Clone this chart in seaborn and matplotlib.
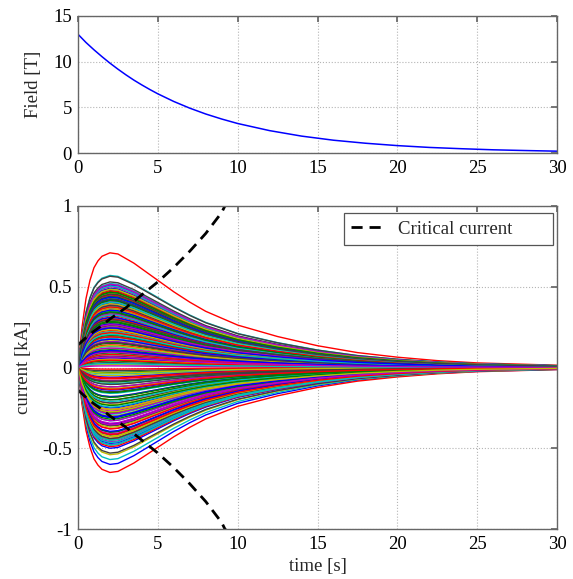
import numpy as np
import pandas as pd
import matplotlib
matplotlib.use("Agg")
import matplotlib.pyplot as plt
import seaborn as sns

# ---- data ----
field_t = [0, 0.5, 1, 1.5, 2, 2.5, 3, 3.5, 4, 4.5, 5, 6, 7, 8, 9, 10, 12, 14, 16, 18,
           20, 22, 24, 26, 28, 30]
field_B = [13.0, 12.1, 11.3, 10.55, 9.84, 9.18, 8.56, 7.98, 7.45, 6.95, 6.48, 5.64,
           4.91, 4.27, 3.72, 3.23, 2.45, 1.85, 1.4, 1.07, 0.81, 0.61, 0.47, 0.35,
           0.27, 0.2]

crit_t = [0, 0.5, 1, 1.5, 2, 3, 4, 5, 6, 7, 8, 9, 9.2, 9.6]
crit_I = [0.14, 0.185, 0.225, 0.26, 0.30, 0.37, 0.45, 0.53, 0.62, 0.72, 0.83, 0.96,
          1.0, 1.04]

# normalised current waveform (peak = 1)
shape_t = [0, 0.25, 0.5, 0.75, 1, 1.25, 1.5, 2, 2.5, 3, 3.5, 4, 5, 6, 7, 8, 9, 10,
           12.5, 15, 17.5, 20, 22.5, 25, 27.5, 30]
shape_v = [0, 0.35, 0.6, 0.76, 0.87, 0.93, 0.97, 1.0, 0.99, 0.95, 0.91, 0.86, 0.76,
           0.66, 0.57, 0.49, 0.43, 0.37, 0.27, 0.19, 0.13, 0.09, 0.06, 0.04, 0.03,
           0.02]

# peak current of each strand [kA], in plotting order (colour cycle b g r c m y k)
peaks = [
    0.48, 0.31, 0.71, 0.57, -0.22, 0.12, 0.565,
    -0.60, -0.45, -0.65, -0.57, 0.44, -0.54, -0.53,
    -0.50, 0.38, 0.05, 0.52, 0.50, -0.30, 0.36,
    0.45, -0.12, 0.27, -0.40, 0.47, 0.21, -0.48,
    0.33, 0.42, -0.35, 0.18, -0.08, 0.40, 0.53,
    -0.42, 0.15, 0.46, 0.29, 0.35, -0.18, 0.24,
    0.51, -0.28, -0.44, 0.08, -0.38, 0.33, -0.15,
    0.02, 0.25, 0.39, -0.33, 0.20, 0.43, 0.30,
    -0.25, 0.47, -0.20, 0.41, -0.46, -0.05, 0.10,
    0.37, -0.36, 0.14, -0.10, 0.28, 0.49, -0.40,
    -0.47, 0.22, 0.32, 0.46, -0.27, -0.43, 0.44,
    0.16, -0.03, -0.49, 0.35, 0.06, 0.26, -0.31,
    0.42, 0.34, 0.23, -0.45, 0.39, 0.17, 0.03,
    -0.14, -0.40, 0.45, 0.13, -0.33, 0.37, 0.48,
    0.27, 0.09, -0.26, 0.48, 0.44, -0.37, 0.19,
    -0.35, 0.44, 0.36, -0.16, 0.12, 0.02, -0.44,
    0.06, -0.20, 0.19, 0.38, -0.41, 0.46, 0.34,
    0.40, 0.28, -0.07, -0.29, 0.25, -0.13, 0.41,
    -0.31, 0.04, 0.43, 0.22, 0.01, 0.29, -0.22,
    0.31, -0.32, -0.38, -0.04, 0.33, -0.23, 0.07,
    -0.18, 0.11, 0.08, -0.21, -0.12, 0.36, -0.02,
    0.49, -0.09, 0.30, 0.43, 0.41, 0.05, -0.36,
    -0.06, 0.20, -0.01, -0.48, 0.16, -0.26, 0.26,
    0.355, -0.155, 0.215, 0.505, -0.345, 0.135, 0.455,
    -0.395, 0.285, 0.475, -0.245, 0.095, -0.425, 0.385,
    0.175, 0.415, -0.065, 0.325, -0.285, 0.235, -0.105,
    0.435, -0.185, 0.045, -0.465, 0.265, 0.395, 0.155,
    -0.305, 0.345, -0.415, 0.205, 0.515, -0.035, 0.295,
    0.105, -0.235, 0.375, 0.025, -0.355, 0.485, -0.085,
    0.245, 0.465, -0.135, 0.405, 0.065, -0.275, 0.425,
]

matlab_colors = [(0, 0, 1), (0, 0.5, 0), (1, 0, 0), (0, 0.75, 0.75),
                 (0.75, 0, 0.75), (0.75, 0.75, 0), (0.25, 0.25, 0.25)]

# ---- build tables ----
field_df = pd.DataFrame({"t": field_t, "B": field_B})
crit_df = pd.concat([
    pd.DataFrame({"t": crit_t, "I": crit_I, "side": "pos"}),
    pd.DataFrame({"t": crit_t, "I": [-v for v in crit_I], "side": "neg"}),
])
rows = []
for k, p in enumerate(peaks):
    for tt, sv in zip(shape_t, shape_v):
        rows.append((k, tt, p * sv))
cur_df = pd.DataFrame(rows, columns=["strand", "t", "I"])
palette = [matlab_colors[k % 7] for k in range(len(peaks))]

# ---- style ----
sns.set_theme(style="white")
plt.rcParams["font.family"] = ["Liberation Serif", "DejaVu Serif"]
plt.rcParams.update({
    "axes.edgecolor": "#666666",
    "axes.linewidth": 1.0,
    "xtick.direction": "in",
    "ytick.direction": "in",
    "xtick.top": True,
    "ytick.right": True,
    "xtick.major.size": 4,
    "ytick.major.size": 4,
    "xtick.major.pad": 5,
    "ytick.major.pad": 4.5,
    "xtick.color": "#666666",
    "ytick.color": "#666666",
    "xtick.labelcolor": "black",
    "ytick.labelcolor": "black",
    "font.size": 13,
})

fig = plt.figure(figsize=(5.73, 5.79), dpi=100)
ax1 = fig.add_axes([78 / 573, 1 - 153 / 579, 479 / 573, 137 / 579])
ax2 = fig.add_axes([78 / 573, 1 - 529 / 579, 479 / 573, 323 / 579])

grid_kw = dict(color="#b5b5b5", linestyle=":", linewidth=0.8)

# top panel
sns.lineplot(data=field_df, x="t", y="B", ax=ax1, color="blue", lw=1.1)
ax1.set_xlim(0, 30)
ax1.set_ylim(0, 15)
ax1.set_xticks([0, 5, 10, 15, 20, 25, 30])
ax1.set_yticks([0, 5, 10, 15])
ax1.grid(True, **grid_kw)
ax1.set_xlabel("")
ax1.set_ylabel("Field [T]", fontsize=13.5, labelpad=8)

# bottom panel
sns.lineplot(data=cur_df, x="t", y="I", hue="strand", palette=palette,
             estimator=None, sort=False, legend=False, lw=1.0, ax=ax2)
first = True
for side, g in crit_df.groupby("side", sort=False):
    sns.lineplot(data=g, x="t", y="I", ax=ax2, color="black", lw=2.0,
                 linestyle=(0, (4, 2.5)), sort=False,
                 label="Critical current" if first else None)
    first = False
ax2.set_xlim(0, 30)
ax2.set_ylim(-1, 1)
ax2.set_xticks([0, 5, 10, 15, 20, 25, 30])
ax2.set_yticks([-1, -0.5, 0, 0.5, 1])
ax2.set_yticklabels(["-1", "-0.5", "0", "0.5", "1"])
ax2.grid(True, **grid_kw)
ax2.set_xlabel("time [s]", fontsize=13.5, labelpad=4)
ax2.set_ylabel("current [kA]", fontsize=13.5, labelpad=7)
leg = ax2.legend(loc="upper left", fontsize=13.5, frameon=True, fancybox=False,
                 edgecolor="#555555", framealpha=1, handlelength=1.9,
                 handletextpad=0.6, borderpad=0.4, borderaxespad=0,
                 mode="expand", bbox_to_anchor=(0.555, 0.873, 0.436, 0.105))
leg.get_frame().set_linewidth(0.9)

for ax in (ax1, ax2):
    for lab in ax.get_xticklabels() + ax.get_yticklabels():
        lab.set_fontsize(13.5)

fig.savefig("out.png", dpi=100)
